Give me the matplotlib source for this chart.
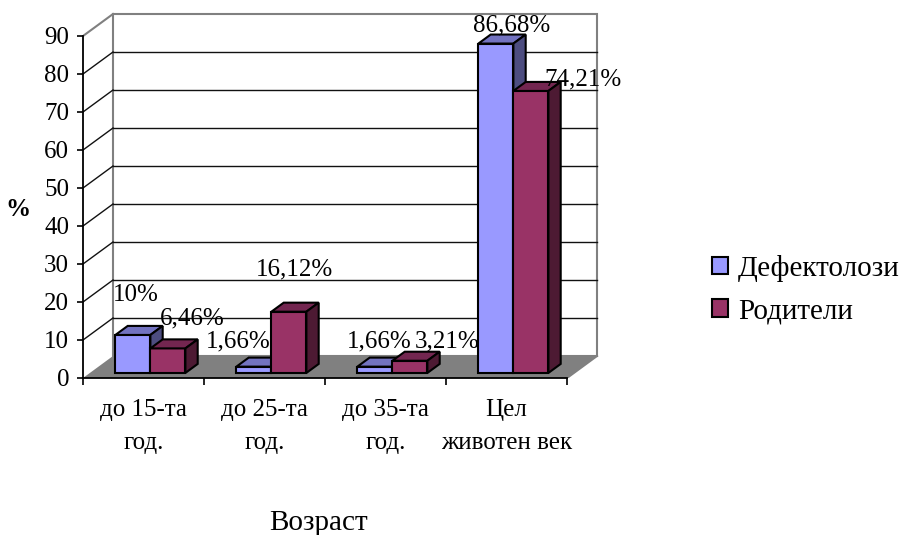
import matplotlib
matplotlib.use("Agg")
import matplotlib.pyplot as plt
from matplotlib.patches import Polygon, Patch

plt.rcParams['font.family'] = ['Liberation Serif', 'DejaVu Serif']

# ---- data ----
categories = ["до 15-та\nгод.", "до 25-та\nгод.", "до 35-та\nгод.", "Цел\nживотен век"]
series_names = ["Дефектолози", "Родители"]
defektolozi = [10, 1.66, 1.66, 86.68]
roditeli = [6.46, 16.12, 3.21, 74.21]
value_labels = [["10%", "1,66%", "1,66%", "86,68%"],
                ["6,46%", "16,12%", "3,21%", "74,21%"]]
yticks = [0, 10, 20, 30, 40, 50, 60, 70, 80, 90]

# ---- styling ----
face_cols = ["#9999FF", "#993366"]
top_cols = ["#7373C0", "#732650"]
side_cols = ["#4D4D80", "#4D1A33"]
FS = 18
FS_BIG = 21

W, H = 902, 535
fig = plt.figure(figsize=(W / 100, H / 100), dpi=100)
px_x, px_y = 121.0, 3.8          # pixels per data unit
ax = fig.add_axes([83 / W, (H - 378) / H, 517 / W, 368 / H])
ax.set_xlim(0, 517 / px_x)
ax.set_ylim(0, 368 / px_y)
ax.patch.set_visible(False)

n = len(categories)
ymax = yticks[-1]
DX, DY = 30 / px_x, 22 / px_y     # depth of the plot box
f0, f1 = 0.23, 0.64               # bar depth range (fraction of box depth)
bw = 35 / px_x                    # bar width

# walls
back = Polygon([(DX, DY), (n + DX, DY), (n + DX, ymax + DY), (DX, ymax + DY)],
               closed=True, facecolor="white", edgecolor="#808080", lw=1.5, zorder=0.5)
ax.add_patch(back)
ax.plot([0, DX], [ymax, ymax + DY], color="#808080", lw=1.5, zorder=1)
for v in yticks[1:-1]:
    ax.plot([DX, n + DX], [v + DY, v + DY], color="#111111", lw=1.0, zorder=1)
    ax.plot([0, DX], [v, v + DY], color="#111111", lw=1.0, zorder=1)

# floor
floor = Polygon([(0, 0), (n, 0), (n + DX, DY), (DX, DY)], closed=True,
                facecolor="#808080", edgecolor="none", zorder=1.5)
ax.add_patch(floor)
ax.plot([n, n + DX], [0, DY], color="#808080", lw=1.5, zorder=1.6)

# bars
sx, sy = f0 * DX, f0 * DY
bdx, bdy = (f1 - f0) * DX, (f1 - f0) * DY
series = [defektolozi, roditeli]
label_offsets = [[(3, 40), (-16, 25), (4, 25), (16, 18)],
                 [(24, 30), (6, 42), (37, 19), (52, 11)]]
z = 3
for i in range(n):
    for s, vals in enumerate(series):
        v = vals[i]
        xl = i + 0.5 - bw + s * bw + sx
        xr = xl + bw
        bot, top = sy, sy + v
        ax.bar(xl, v, width=bw, bottom=bot, align="edge", color=face_cols[s],
               edgecolor="black", lw=1.5, zorder=z)
        ax.add_patch(Polygon([(xl, top), (xr, top), (xr + bdx, top + bdy), (xl + bdx, top + bdy)],
                             closed=True, facecolor=top_cols[s], edgecolor="black", lw=1.5, zorder=z))
        ax.add_patch(Polygon([(xr, bot), (xr + bdx, bot + bdy), (xr + bdx, top + bdy), (xr, top)],
                             closed=True, facecolor=side_cols[s], edgecolor="black", lw=1.5, zorder=z))
        z += 1
        ox, oy = label_offsets[s][i]
        ax.annotate(value_labels[s][i], (xl + bw / 2, top), xytext=(ox, oy),
                    textcoords="offset pixels", ha="center", va="center",
                    fontsize=FS, zorder=20, annotation_clip=False)

# axes
for side in ("top", "right"):
    ax.spines[side].set_visible(False)
ax.spines["left"].set_bounds(0, ymax)
ax.spines["bottom"].set_bounds(0, n)
for side in ("left", "bottom"):
    ax.spines[side].set_linewidth(1.3)
    ax.spines[side].set_zorder(10)
ax.set_yticks(yticks)
ax.set_yticklabels([str(t) for t in yticks], fontsize=FS)
ax.tick_params(axis="y", direction="out", length=4, width=1.2, pad=6)
ax.set_xticks(range(n + 1))
ax.set_xticklabels([""] * (n + 1))
ax.tick_params(axis="x", which="major", direction="out", length=5, width=1.2)
ax.set_xticks([i + 0.5 for i in range(n)], categories, minor=True)
ax.tick_params(axis="x", which="minor", length=0, pad=15, labelsize=FS)
for t in ax.get_xticklabels(minor=True):
    t.set_linespacing(1.65)

fig.text(18 / W, 1 - 210 / H, "%", fontsize=FS, fontweight="bold", ha="center", va="center")
fig.text(319 / W, 1 - 523 / H, "Возраст", fontsize=FS_BIG, ha="center", va="center")

handles = [Patch(facecolor=face_cols[k], edgecolor="black", lw=1.5, label=series_names[k])
           for k in range(2)]
fig.legend(handles=handles, loc="upper left", bbox_to_anchor=(712 / W, 1 - 255 / H),
           frameon=False, fontsize=FS_BIG, handlelength=0.55, handleheight=0.55,
           handletextpad=0.35, labelspacing=0.55, borderpad=0, borderaxespad=0)

fig.savefig("out.png", dpi=100)
